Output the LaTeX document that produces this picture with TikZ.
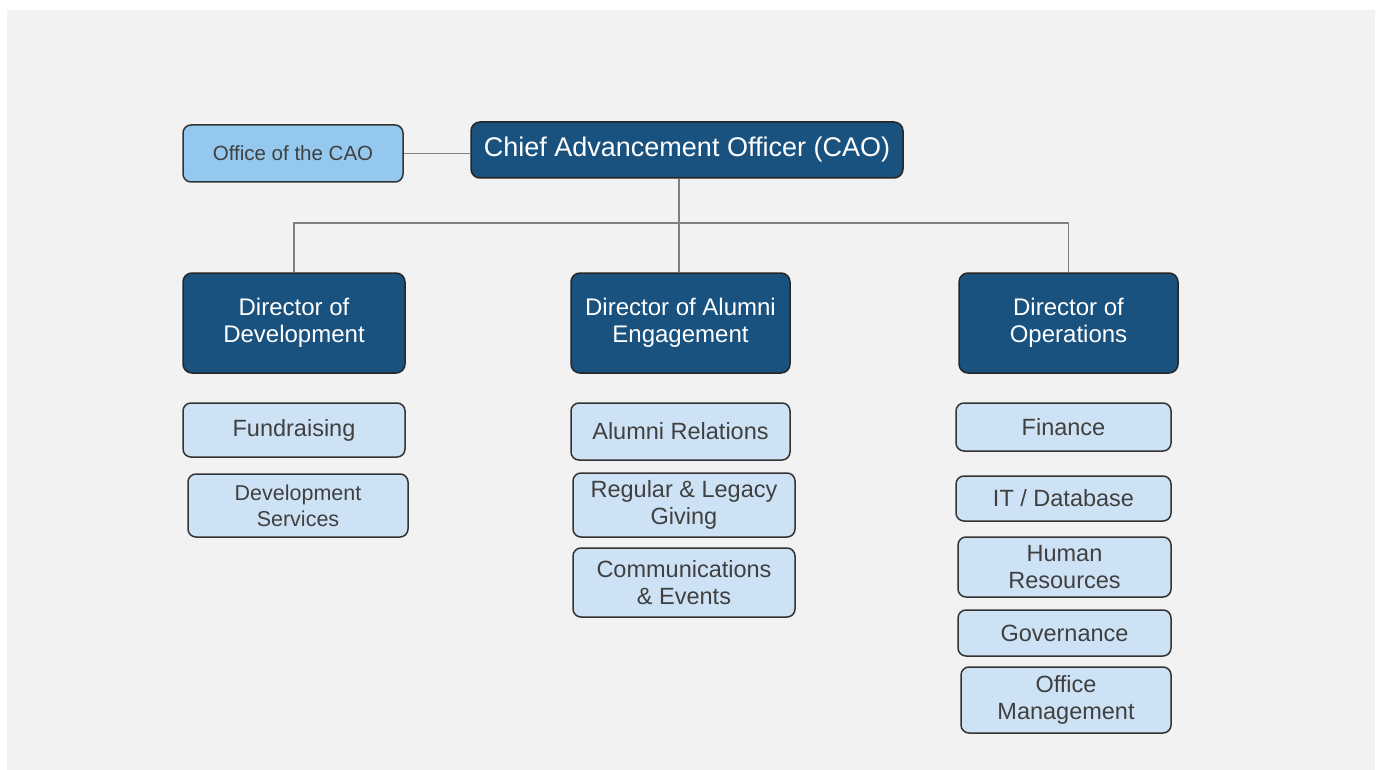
\documentclass[tikz,border=0pt]{standalone}
\usepackage{fontspec}
\setmainfont{Liberation Sans}
\usepackage{tikz}
\usetikzlibrary{positioning}

\definecolor{navy}{HTML}{1A527F}
\definecolor{skyfill}{HTML}{94C8EE}
\definecolor{palefill}{HTML}{CDE3F5}
\definecolor{boxtext}{HTML}{404040}
\definecolor{canvas}{HTML}{F2F2F2}
\definecolor{linkgray}{HTML}{7F7F7F}

\tikzset{
    headbox/.style={draw=black!85, fill=navy, text=white, rounded corners=9pt,
        line width=1.5pt, align=center, inner sep=0pt},
    unitbox/.style={draw=black!80, fill=palefill, text=boxtext, rounded corners=8pt,
        line width=1.5pt, align=center, inner sep=0pt,
        font=\fontsize{23.5}{26.5}\selectfont},
    link/.style={draw=linkgray, line width=1.5pt}
}

\begin{document}
\begin{tikzpicture}[x=1pt,y=-1pt]
        \useasboundingbox (0,0) rectangle (1381,770);
        \fill[white] (0,0) rectangle (1381,770);
        \fill[canvas] (7,10) rectangle (1375,770);

        % top row
        \node[unitbox, fill=skyfill, minimum width=220, minimum height=57,
            font=\fontsize{20.5}{24}\selectfont] (office) at (293,153.5) {Office of the CAO};
        \node[headbox, minimum width=432, minimum height=56,
            font=\fontsize{27}{30}\selectfont] (cao) at (687,150) {Chief Advancement Officer (CAO)};

        % directors
        \node[headbox, minimum width=222, minimum height=100,
            font=\fontsize{24}{27}\selectfont] (devdir) at (294,323) {Director of\\Development};
        \node[headbox, minimum width=219, minimum height=100,
            font=\fontsize{24}{27}\selectfont] (alumdir) at (680.5,323) {Director of Alumni\\Engagement};
        \node[headbox, minimum width=219, minimum height=100,
            font=\fontsize{24}{27}\selectfont] (opsdir) at (1068.5,323) {Director of\\Operations};

        % development units
        \node[unitbox, minimum width=222, minimum height=54] (fund) at (294,430) {Fundraising};
        \node[unitbox, minimum width=220, minimum height=63,
            font=\fontsize{21.5}{26}\selectfont] (devsvc) at (298,505.5) {Development\\Services};

        % alumni units
        \node[unitbox, minimum width=219, minimum height=57] (alumrel) at (680.5,431.5) {Alumni Relations};
        \node[unitbox, minimum width=222, minimum height=64] (giving) at (684,505) {Regular \& Legacy\\Giving};
        \node[unitbox, minimum width=222, minimum height=69] (comms) at (684,582.5) {Communications\\\& Events};

        % operations units
        \node[unitbox, minimum width=215, minimum height=48] (finance) at (1063.5,427) {Finance};
        \node[unitbox, minimum width=215, minimum height=45] (itdb) at (1063.5,498.5) {IT / Database};
        \node[unitbox, minimum width=213, minimum height=60] (hr) at (1064.5,567) {Human\\Resources};
        \node[unitbox, minimum width=213, minimum height=46] (gov) at (1064.5,633) {Governance};
        \node[unitbox, minimum width=210, minimum height=66] (offmgmt) at (1066,700) {Office\\Management};

        % reporting lines
        \coordinate (bus) at (679,223);
        \draw[link] (office.east) -- (office.east -| cao.west);
        \draw[link] (cao.south -| bus) -- (bus);
        \draw[link] (devdir.north) |- (bus) -| (opsdir.north);
        \draw[link] (bus) -- (bus |- alumdir.north);
\end{tikzpicture}
\end{document}
